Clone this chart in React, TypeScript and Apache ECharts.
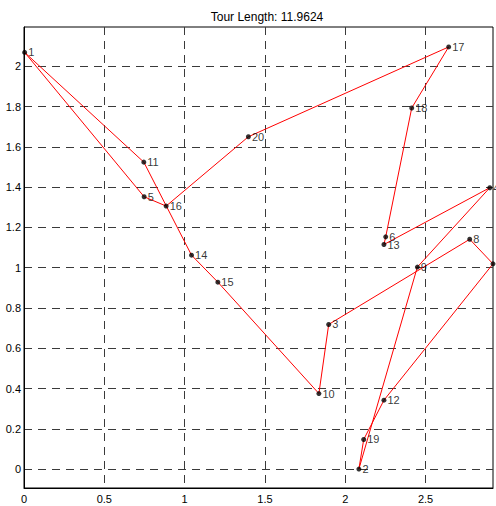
import React, { useEffect, useRef } from "react";
import * as echarts from "echarts";

// City coordinates (city n is at index n-1)
const cityX = [0.004, 2.085, 1.897, 2.9, 0.748, 2.252, 2.92, 2.775, 2.449, 1.836, 0.746, 2.241, 2.241, 1.043, 1.207, 0.885, 2.644, 2.414, 2.115, 1.397];
const cityY = [2.069, 0.0, 0.718, 1.397, 1.352, 1.153, 1.019, 1.141, 1.003, 0.375, 1.524, 0.342, 1.115, 1.062, 0.928, 1.306, 2.096, 1.793, 0.147, 1.65];
const cityNames = cityX.map((_, i) => String(i + 1));

// Tour order (closed)
const tour = [1, 5, 16, 20, 17, 18, 6, 13, 4, 9, 2, 19, 12, 7, 8, 3, 10, 15, 14, 11, 1];

const xTicks = [0, 0.5, 1, 1.5, 2, 2.5];
const yTicks = [0, 0.2, 0.4, 0.6, 0.8, 1, 1.2, 1.4, 1.6, 1.8, 2];
const titleText = "Tour Length: 11.9624";

const FONT = "'Liberation Sans', Arial, sans-serif";

export default function App() {
  const ref = useRef<HTMLDivElement>(null);
  useEffect(() => {
    if (!ref.current) return;
    const chart = echarts.init(ref.current, undefined, { renderer: "svg" });
    const gridLine = { show: true, lineStyle: { color: "#3a3a3a", width: 1, type: [8, 6] as any } };
    chart.setOption({
      animation: false,
      backgroundColor: "#fff",
      title: {
        text: titleText,
        left: 262,
        top: 6,
        textAlign: "center",
        textStyle: { fontSize: 12, fontWeight: "normal", color: "#000", fontFamily: FONT },
      },
      grid: {
        left: 24,
        right: 3,
        top: 27,
        bottom: 18,
        containLabel: false,
        show: true,
        borderColor: "#000",
        borderWidth: 1,
        backgroundColor: "transparent",
      },
      xAxis: {
        type: "value",
        min: 0,
        max: 2.92,
        axisLine: { show: true, onZero: false, lineStyle: { color: "#000", width: 1 } },
        axisTick: { show: false, customValues: xTicks },
        axisLabel: { customValues: xTicks, color: "#000", fontSize: 11, fontFamily: FONT, margin: 5 },
        splitLine: gridLine,
      },
      yAxis: {
        type: "value",
        min: -0.094,
        max: 2.195,
        axisLine: { show: true, onZero: false, lineStyle: { color: "#000", width: 1 } },
        axisTick: { show: false, customValues: yTicks },
        axisLabel: { customValues: yTicks, color: "#000", fontSize: 11, fontFamily: FONT, margin: 3 },
        splitLine: gridLine,
      },
      series: [
        {
          type: "line",
          data: tour.map((c) => [cityX[c - 1], cityY[c - 1]]),
          showSymbol: false,
          symbol: "none",
          lineStyle: { color: "#ff0000", width: 1 },
          z: 2,
        },
        {
          type: "scatter",
          data: cityX.map((x, i) => ({ value: [x, cityY[i]], name: cityNames[i] })),
          symbolSize: 5,
          itemStyle: { color: "#000" },
          label: {
            show: true,
            position: "right",
            distance: 1,
            formatter: "{b}",
            color: "#000",
            fontSize: 11,
            fontFamily: FONT,
          },
          z: 3,
        },
      ],
    });
    return () => chart.dispose();
  }, []);
  return <div ref={ref} style={{ width: 496, height: 506, position: "absolute", left: 0, top: 0 }} />;
}
